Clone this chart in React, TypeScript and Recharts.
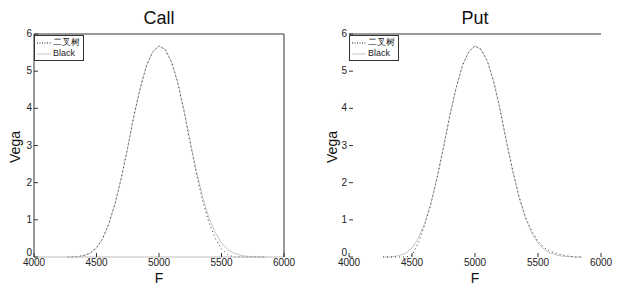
import { LineChart, Line, XAxis, YAxis } from "recharts";

const F = [
  4270, 4300, 4350, 4400, 4450, 4500, 4550, 4600, 4650, 4700, 4750, 4800, 4850, 4900, 4950, 5000,
  5050, 5100, 5150, 5200, 5250, 5300, 5350, 5400, 5450, 5500, 5550, 5600, 5650, 5700, 5750, 5800, 5850,
];
const BLACK = [
  0, 0, 0.01, 0.04, 0.1, 0.24, 0.5, 0.9, 1.45, 2.15, 2.95, 3.8, 4.55, 5.15, 5.52, 5.68,
  5.58, 5.25, 4.7, 3.95, 3.1, 2.3, 1.6, 1.05, 0.65, 0.38, 0.2, 0.1, 0.05, 0.02, 0.01, 0, 0,
];
const BINOM_CALL = [
  0, 0, 0.01, 0.04, 0.11, 0.25, 0.5, 0.92, 1.45, 2.15, 2.95, 3.82, 4.55, 5.15, 5.52, 5.68,
  5.58, 5.25, 4.68, 3.92, 3.05, 2.22, 1.5, 0.92, 0.5, 0.22, 0.06, 0, 0, 0, 0, 0, 0,
];
const BINOM_PUT = [
  0, 0, 0, 0, 0, 0.04, 0.38, 0.85, 1.42, 2.15, 2.95, 3.8, 4.55, 5.15, 5.52, 5.68,
  5.58, 5.25, 4.7, 3.95, 3.1, 2.32, 1.62, 1.08, 0.7, 0.42, 0.25, 0.15, 0.09, 0.05, 0.02, 0, 0,
];
const X_TICKS = [4000, 4500, 5000, 5500, 6000];
const Y_TICKS = [0, 1, 2, 3, 4, 5, 6];

const FONT = "'Liberation Sans', Arial, sans-serif";

function LegendBox({ x, y }: { x: number; y: number }) {
  return (
    <div
      style={{
        position: "absolute",
        left: x,
        top: y,
        border: "1px solid #333",
        background: "#fff",
        width: 44,
        padding: "1px 2px",
        fontSize: 9,
        fontFamily: FONT,
        color: "#222",
        lineHeight: "11px",
      }}
    >
      <div style={{ display: "flex", alignItems: "center" }}>
        <svg width={14} height={10}>
          <line x1={0} x2={14} y1={5} y2={5} stroke="#222" strokeDasharray="1 1.5" />
        </svg>
        <span style={{ marginLeft: 2 }}>二叉树</span>
      </div>
      <div style={{ display: "flex", alignItems: "center" }}>
        <svg width={14} height={10}>
          <line x1={0} x2={14} y1={5} y2={5} stroke="#c4c4c4" />
        </svg>
        <span style={{ marginLeft: 2 }}>Black</span>
      </div>
    </div>
  );
}

function YTick(props: any) {
  const { x, y, payload } = props;
  return (
    <text
      x={x}
      y={payload.value === 0 ? y - 4 : y}
      dy={3}
      textAnchor="end"
      fontSize={10}
      fill="#222"
      fontFamily={FONT}
    >
      {payload.value}
    </text>
  );
}

function Panel({
  title,
  binom,
  left,
  plotLeft,
  plotRight,
  fullBox,
  vegaX,
}: {
  title: string;
  binom: number[];
  left: number;
  plotLeft: number;
  plotRight: number;
  fullBox: boolean;
  vegaX: number;
}) {
  const data = F.map((f, i) => ({ f, black: BLACK[i], binom: binom[i] }));
  const W = 310;
  const plotTop = 34;
  const plotBottom = 257;
  return (
    <div style={{ position: "absolute", left, top: 0, width: W, height: 290 }}>
      <div
        style={{
          position: "absolute",
          left: plotLeft,
          width: plotRight - plotLeft,
          top: 8,
          textAlign: "center",
          fontSize: 18,
          fontFamily: FONT,
          color: "#111",
        }}
      >
        {title}
      </div>
      <div
        style={{
          position: "absolute",
          left: vegaX - 24,
          top: 147 - 12,
          width: 48,
          height: 24,
          lineHeight: "24px",
          textAlign: "center",
          transform: "rotate(-90deg)",
          fontSize: 14,
          fontFamily: FONT,
          color: "#111",
        }}
      >
        Vega
      </div>
      <div
        style={{
          position: "absolute",
          left: plotLeft,
          width: plotRight - plotLeft,
          top: 271,
          lineHeight: "15px",
          textAlign: "center",
          fontSize: 14,
          fontFamily: FONT,
          color: "#111",
        }}
      >
        F
      </div>
      <LineChart
        width={W}
        height={290}
        data={data}
        margin={{ top: plotTop - 1, right: W - plotRight - 1, bottom: 290 - plotBottom - 20, left: plotLeft - 30 }}
      >
        <XAxis
          dataKey="f"
          type="number"
          domain={[4000, 6000]}
          ticks={X_TICKS}
          height={20}
          tickSize={-4}
          tickMargin={6}
          tick={{ fontSize: 10, fill: "#222", fontFamily: FONT }}
          axisLine={{ stroke: fullBox ? "#bbb" : "none" }}
          tickLine={{ stroke: "#333" }}
        />
        <XAxis
          xAxisId="top"
          dataKey="f"
          type="number"
          orientation="top"
          domain={[4000, 6000]}
          ticks={X_TICKS}
          height={1}
          tickSize={-4}
          tick={false}
          axisLine={{ stroke: "#333" }}
          tickLine={{ stroke: "#333" }}
        />
        <YAxis
          type="number"
          domain={[0, 6]}
          ticks={Y_TICKS}
          width={30}
          tickSize={-4}
          tickMargin={6}
          tick={<YTick />}
          axisLine={{ stroke: fullBox ? "#333" : "none" }}
          tickLine={{ stroke: "#333" }}
        />
        <YAxis
          yAxisId="right"
          orientation="right"
          type="number"
          domain={[0, 6]}
          ticks={Y_TICKS}
          width={1}
          tickSize={-4}
          tick={false}
          axisLine={{ stroke: fullBox ? "#333" : "none" }}
          tickLine={{ stroke: "#555" }}
        />
        <Line
          dataKey="black"
          stroke="#c4c4c4"
          strokeWidth={1}
          dot={false}
          isAnimationActive={false}
        />
        <Line
          dataKey="binom"
          stroke="#333"
          strokeWidth={1}
          strokeDasharray="1 3"
          dot={false}
          isAnimationActive={false}
        />
      </LineChart>
      <LegendBox x={plotLeft} y={plotTop + 1} />
    </div>
  );
}

export default function App() {
  return (
    <div
      style={{
        position: "absolute",
        left: 0,
        top: 0,
        width: 620,
        height: 290,
        background: "#fff",
        overflow: "hidden",
      }}
    >
      <Panel title="Call" binom={BINOM_CALL} left={0} plotLeft={34} plotRight={284} fullBox vegaX={15} />
      <Panel title="Put" binom={BINOM_PUT} left={310} plotLeft={39} plotRight={291} fullBox={false} vegaX={22} />
    </div>
  );
}
